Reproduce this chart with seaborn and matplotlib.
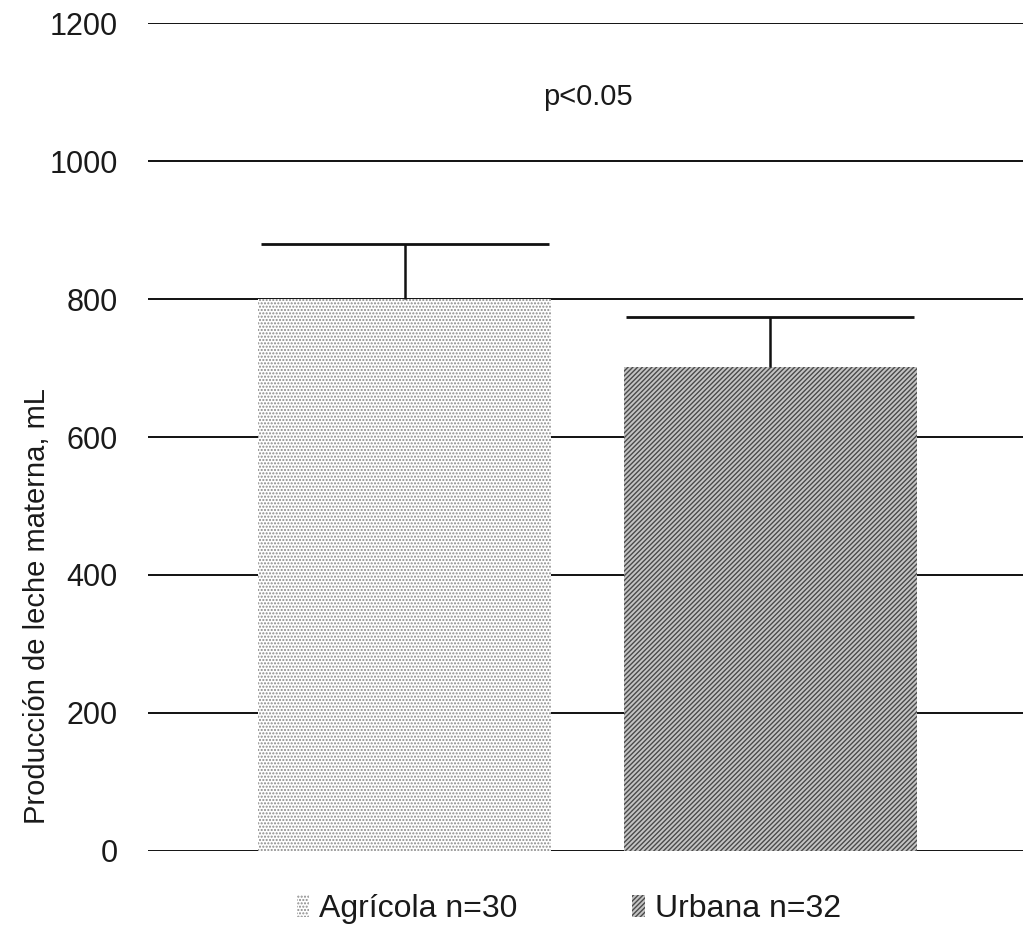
import numpy as np
import pandas as pd
import matplotlib
matplotlib.use("Agg")
import matplotlib.pyplot as plt
import seaborn as sns
from matplotlib.patches import Patch

# ----- données -----
grupos = ["Agrícola n=30", "Urbana n=32"]
produccion = [800, 702]       # mL (moyenne)
error_sup = [80, 72]          # barre d'erreur (haut seulement)
p_texto = "p<0.05"

sns.set_theme(style="white")
plt.rcParams["font.family"] = ["Liberation Sans", "DejaVu Sans"]
plt.rcParams["hatch.linewidth"] = 1.0

df = pd.DataFrame({"grupo": grupos, "ml": produccion})

fig, ax = plt.subplots(figsize=(10.23, 9.38), dpi=100)
fig.subplots_adjust(left=0.145, right=1.0, top=0.975, bottom=0.093)

sns.barplot(data=df, x="grupo", y="ml", ax=ax, width=0.8, errorbar=None,
            color="white", zorder=3)

# motifs : points pour Agrícola, hachures pour Urbana
estilos = [("white", "#8a8a8a", "....."), ("#c4c4c4", "#4a4a4a", "///////")]
for patch, (fc, ec, h) in zip(ax.patches, estilos):
    patch.set_facecolor(fc)
    patch.set_edgecolor(ec)
    patch.set_hatch(h)
    patch.set_linewidth(0)

# barres d'erreur (vers le haut seulement)
x = np.arange(len(grupos))
_, caps, _ = ax.errorbar(x, produccion, yerr=[np.zeros(len(grupos)), error_sup],
                         fmt="none", ecolor="#111111", elinewidth=1.8,
                         capsize=104, capthick=2.0, zorder=4)
caps[0].set_visible(False)   # pas de trait en bas

ax.set_ylim(0, 1200)
ax.set_xlim(-0.70, 1.69)
ax.set_yticks(range(0, 1201, 200))
ax.yaxis.grid(True, color="#111111", linewidth=1.4, zorder=0)
ax.set_axisbelow(True)
for s in ax.spines.values():
    s.set_visible(False)
ax.tick_params(axis="y", labelsize=22, pad=22, length=0, labelcolor="#1a1a1a")
ax.set_xticks([])
ax.set_xlabel("")
ax.set_ylabel("Producción de leche materna, mL", fontsize=21, color="#1a1a1a")
ax.yaxis.set_label_coords(-0.111, 0.296)

ax.text(0.5, 1093, p_texto, ha="center", va="center", fontsize=21, color="#1a1a1a")

handles = [Patch(facecolor=fc, edgecolor=ec, hatch=h, linewidth=0)
           for fc, ec, h in estilos]
fig.legend(handles, grupos, loc="center", bbox_to_anchor=(0.556, 0.031),
           ncol=2, frameon=False, fontsize=23, handlelength=0.4, handleheight=0.7,
           handletextpad=0.3, columnspacing=3.6, labelcolor="#1a1a1a")

fig.savefig("out.png", dpi=100, facecolor="white")
